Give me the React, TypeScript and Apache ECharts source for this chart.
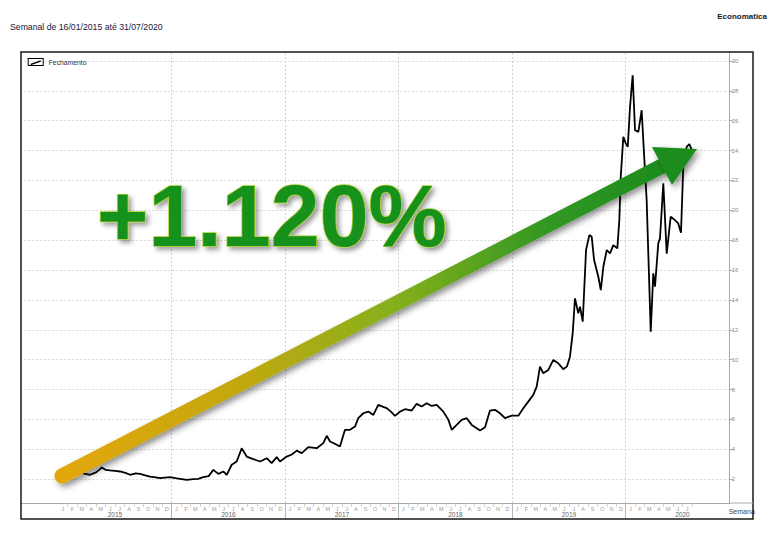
import React, { useEffect, useRef } from 'react';
import * as echarts from 'echarts';

const TITLE = 'Semanal de 16/01/2015 até 31/07/2020';
const SOURCE = 'Economatica';
const SERIES_NAME = 'Fechamento';
const X_NAME = 'Semana';
const GAIN_LABEL = '+1.120%';
const MONTH_LETTERS = ['J', 'F', 'M', 'A', 'M', 'J', 'J', 'A', 'S', 'O', 'N', 'D'];
const YEARS = [2015, 2016, 2017, 2018, 2019, 2020];

// months elapsed since 1 Jan 2015 for each sampled week
const weekPos = [
  0.5, 1.25, 2.3, 3.36, 4.0, 4.42, 4.6, 5.0, 5.48, 6.0, 6.54, 7.1, 7.6, 8.2, 8.65, 9.2, 9.71, 10.3, 10.77, 11.3, 11.82,
  12.4, 12.88, 13.59, 14.28, 14.8, 15.34, 15.9, 16.4, 16.93, 17.46, 17.82, 18.34, 18.87, 19.4, 19.93, 20.63, 21.34,
  22.05, 22.57, 23.1, 23.45, 24.16, 24.7, 25.22, 25.75, 26.44, 27.33, 28.03, 28.39, 28.74, 29.3, 29.79, 30.32, 30.85,
  31.38, 31.73, 32.26, 32.79, 33.32, 33.84, 34.3, 34.73, 35.2, 35.61, 36.14, 36.67, 37.38, 37.9, 38.43, 38.96, 39.49,
  40.02, 40.72, 41.25, 41.61, 42.13, 42.66, 43.19, 43.72, 44.25, 44.6, 45.13, 45.65, 46.18, 46.71, 47.24, 47.95,
  48.65, 49.18, 49.7, 50.23, 50.59, 50.94, 51.29, 51.82, 52.35, 52.87, 53.4, 53.8, 54.11, 54.4, 54.64, 54.99, 55.17,
  55.46, 55.81, 56.16, 56.41, 56.66, 57.11, 57.37, 57.64, 58.0, 58.35, 58.69, 59.12, 59.33, 59.48, 59.75, 60.0,
  60.22, 60.46, 60.74, 60.99, 61.34, 61.69, 61.94, 62.22, 62.65, 62.92, 63.1, 63.45, 63.63, 63.98, 64.34, 64.76,
  65.21, 65.56, 65.85, 66.09, 66.45, 66.73, 67.0,
];

// weekly closing price (R$)
const closeValues = [
  2.15, 2.32, 2.44, 2.29, 2.45, 2.67, 2.78, 2.62, 2.58, 2.55, 2.51, 2.42, 2.29, 2.38, 2.35, 2.25, 2.17, 2.12, 2.06, 2.1, 2.13,
  2.06, 2.02, 1.95, 2.0, 2.02, 2.13, 2.2, 2.62, 2.35, 2.51, 2.29, 2.96, 3.18, 4.07, 3.51, 3.34, 3.18,
  3.4, 3.07, 3.47, 3.18, 3.51, 3.65, 3.91, 3.74, 4.14, 4.07, 4.41, 4.9, 4.52, 4.35, 4.18, 5.3, 5.3,
  5.52, 6.08, 6.41, 6.52, 6.3, 6.97, 6.85, 6.75, 6.5, 6.23, 6.52, 6.68, 6.59, 7.04, 6.86, 7.08, 6.9,
  6.97, 6.52, 5.97, 5.3, 5.63, 5.97, 6.08, 5.63, 5.41, 5.25, 5.48, 6.59, 6.64, 6.41, 6.08, 6.25,
  6.25, 6.75, 7.19, 7.64, 8.19, 9.53, 9.09, 9.31, 9.98, 9.76, 9.36, 9.55, 10.2, 11.77, 14.1, 13.1, 13.55,
  12.54, 17.34, 18.34, 18.23, 16.67, 15.55, 14.66, 16.22, 17.34, 17.12, 17.67, 17.45, 19.34, 22.24, 24.92, 24.5,
  24.25, 26.92, 29.04, 25.36, 25.25, 26.7, 23.8, 20.68, 11.87, 15.78, 14.88, 17.79, 18.12, 21.8, 17.1, 19.57,
  19.34, 19.12, 18.5, 22.91, 24.25, 24.43, 24.03,
];

const FONT = '"Liberation Sans", Arial, Helvetica, sans-serif';
const X_MIN = -4;
const X_MAX = 71;
const GRID_LEFT = 20.4;
const GRID_RIGHT = 42.3;

const isInt = (v: number) => Math.abs(v - Math.round(v)) < 1e-6;

// month offsets where a new year starts (after the first one)
const yearStarts = YEARS.slice(1).map((_, i) => (i + 1) * 12);
const monthTickValues = Array.from({ length: 67 }, (_, i) => i + 1).filter((v) => v % 12 !== 0);

export default function App() {
  const ref = useRef<HTMLDivElement>(null);

  useEffect(() => {
    if (!ref.current) return;
    const chart = echarts.init(ref.current, undefined, { renderer: 'svg' });

    const seriesData = weekPos.map((m, i) => [m, closeValues[i]]);

    const arrowGradient = new echarts.graphic.LinearGradient(0, 0, 1, 0, [
      { offset: 0, color: '#E2A70D' },
      { offset: 0.3, color: '#C2A80F' },
      { offset: 0.55, color: '#86B01C' },
      { offset: 0.8, color: '#349822' },
      { offset: 1, color: '#1C8C1E' },
    ]);

    const option: any = {
      animation: false,
      backgroundColor: '#ffffff',
      textStyle: { fontFamily: FONT },
      grid: [
        { left: GRID_LEFT, right: GRID_RIGHT, top: 52, bottom: 31, containLabel: false, outerBoundsMode: 'none' },
        { left: GRID_LEFT, right: GRID_RIGHT, top: 503, height: 16, containLabel: false, outerBoundsMode: 'none' },
      ],
      legend: {
        show: true,
        left: 27.7,
        top: 58,
        padding: 0,
        itemWidth: 16,
        itemHeight: 8,
        itemGap: 5,
        selectedMode: false,
        itemStyle: { borderWidth: 0 },
        textStyle: { fontSize: 6.8, color: '#333', fontFamily: FONT },
        data: [
          {
            name: SERIES_NAME,
            icon: 'path://M0,0H16V8H0Z M1,1V7H15V1Z M3,5.8L13,2.2L13,3.8L3,7.2Z',
          },
        ],
      },
      xAxis: [
        {
          type: 'value',
          gridIndex: 0,
          position: 'bottom',
          min: X_MIN,
          max: X_MAX,
          interval: 1,
          name: X_NAME,
          nameLocation: 'end',
          nameGap: -1,
          nameTextStyle: {
            fontSize: 7,
            color: '#444',
            fontFamily: FONT,
            align: 'left',
            verticalAlign: 'top',
            padding: [5, 0, 0, 0],
          },
          axisLine: { show: true, onZero: false, lineStyle: { color: '#a8a8a8', width: 1 } },
          axisTick: { show: false },
          axisLabel: {
            show: true,
            margin: 8,
            fontSize: 6.5,
            color: '#666',
            fontFamily: FONT,
            formatter: (v: number) => {
              if (!isInt(v)) return '';
              const u = Math.round(v);
              if (u >= 6 && (u - 6) % 12 === 0) {
                const y = YEARS[(u - 6) / 12];
                return y !== undefined ? String(y) : '';
              }
              return '';
            },
          },
          splitLine: { show: false },
        },
        {
          type: 'value',
          gridIndex: 0,
          position: 'bottom',
          min: X_MIN - 0.5,
          max: X_MAX - 0.5,
          minInterval: 1,
          maxInterval: 1,
          axisLine: { show: false, onZero: false },
          axisTick: { show: false },
          splitLine: { show: false },
          axisLabel: {
            show: true,
            margin: 2.5,
            fontSize: 5.5,
            color: '#9a9a9a',
            fontFamily: FONT,
            showMinLabel: false,
            showMaxLabel: false,
            formatter: (v: number) => {
              if (!isInt(v)) return '';
              const m = Math.round(v);
              if (m < 0 || m > 66) return '';
              return MONTH_LETTERS[m % 12];
            },
          },
        },
        {
          type: 'value',
          gridIndex: 1,
          position: 'bottom',
          min: X_MIN,
          max: X_MAX,
          interval: 1,
          axisLine: { show: false, onZero: false },
          axisTick: {
            show: true,
            inside: true,
            length: 16,
            customValues: yearStarts,
            lineStyle: { color: '#b4b4b4', width: 1 },
          },
          axisLabel: { show: false },
          splitLine: { show: false },
        },
        {
          type: 'value',
          gridIndex: 1,
          position: 'top',
          min: X_MIN,
          max: X_MAX,
          interval: 1,
          axisLine: { show: false, onZero: false },
          axisTick: {
            show: true,
            inside: true,
            length: 4,
            customValues: monthTickValues,
            lineStyle: { color: '#c8c8c8', width: 0.8 },
          },
          axisLabel: { show: false },
          splitLine: { show: false },
        },
      ],
      yAxis: [
        {
          type: 'value',
          gridIndex: 0,
          position: 'right',
          min: 0.4,
          max: 30.6,
          minInterval: 2,
          maxInterval: 2,
          axisLine: { show: true, onZero: false, lineStyle: { color: '#a8a8a8', width: 1 } },
          axisTick: { show: true, length: 3, lineStyle: { color: '#a8a8a8' } },
          axisLabel: {
            show: true,
            margin: 2,
            fontSize: 6,
            color: '#8a8a8a',
            fontFamily: FONT,
            showMinLabel: false,
            showMaxLabel: false,
            formatter: (v: number) => (isInt(v) && Math.round(v) % 2 === 0 ? String(Math.round(v)) : ''),
          },
          splitLine: {
            show: true,
            showMinLine: false,
            showMaxLine: false,
            lineStyle: { color: '#d6d6d6', type: [2, 2], width: 1 },
          },
        },
        { type: 'value', gridIndex: 1, min: 0, max: 1, show: false, axisLine: { onZero: false } },
      ],
      series: [
        {
          name: SERIES_NAME,
          type: 'line',
          xAxisIndex: 0,
          yAxisIndex: 0,
          data: seriesData,
          showSymbol: false,
          symbol: 'none',
          color: '#000',
          lineStyle: { color: '#000', width: 1.8 },
          z: 3,
          markLine: {
            silent: true,
            symbol: 'none',
            label: { show: false },
            lineStyle: { color: '#d2d2d2', type: [2, 2], width: 1 },
            data: yearStarts.map((v) => ({ xAxis: v })),
            z: 1,
          },
        },
      ],
      graphic: [
        {
          type: 'rect',
          z: 1,
          shape: { x: 21, y: 52, width: 732, height: 467 },
          style: { fill: 'none', stroke: '#1a1a1a', lineWidth: 1.5 },
        },
        {
          type: 'line',
          z: 1,
          shape: { x1: 729.7, y1: 503, x2: 753, y2: 503 },
          style: { stroke: '#a8a8a8', lineWidth: 1 },
        },
        {
          type: 'text',
          z: 5,
          style: {
            text: TITLE,
            x: 10,
            y: 26.5,
            font: `8.7px ${FONT}`,
            fill: '#16163a',
            align: 'left',
            verticalAlign: 'middle',
          },
        },
        {
          type: 'text',
          z: 5,
          style: {
            text: SOURCE,
            x: 767,
            y: 16,
            font: `bold 8px ${FONT}`,
            fill: '#1a1a1a',
            align: 'right',
            verticalAlign: 'middle',
          },
        },
        {
          type: 'line',
          z: 20,
          shape: { x1: 62, y1: 476, x2: 664, y2: 165 },
          style: {
            stroke: arrowGradient,
            lineWidth: 15,
            lineCap: 'round',
            shadowBlur: 6,
            shadowColor: 'rgba(0,0,0,0.45)',
            shadowOffsetX: 3,
            shadowOffsetY: 3,
          },
        },
        {
          type: 'polygon',
          z: 21,
          shape: { points: [[652, 147], [672, 185], [697, 149]] },
          style: {
            fill: '#1C8C1E',
            shadowBlur: 6,
            shadowColor: 'rgba(0,0,0,0.45)',
            shadowOffsetX: 3,
            shadowOffsetY: 3,
          },
        },
        {
          type: 'text',
          z: 22,
          style: {
            text: GAIN_LABEL,
            x: 97,
            y: 215,
            font: `bold 88px ${FONT}`,
            fill: '#17911B',
            stroke: '#A9CF2E',
            lineWidth: 1.5,
            align: 'left',
            verticalAlign: 'middle',
            textShadowBlur: 5,
            textShadowColor: 'rgba(0,0,0,0.4)',
            textShadowOffsetX: 3,
            textShadowOffsetY: 3,
            shadowBlur: 5,
            shadowColor: 'rgba(0,0,0,0.4)',
            shadowOffsetX: 3,
            shadowOffsetY: 3,
          },
        },
      ],
    };

    chart.setOption(option);
    return () => {
      chart.dispose();
    };
  }, []);

  return (
    <div
      ref={ref}
      style={{ position: 'fixed', left: 0, top: 0, width: 772, height: 534, background: '#fff' }}
    />
  );
}
